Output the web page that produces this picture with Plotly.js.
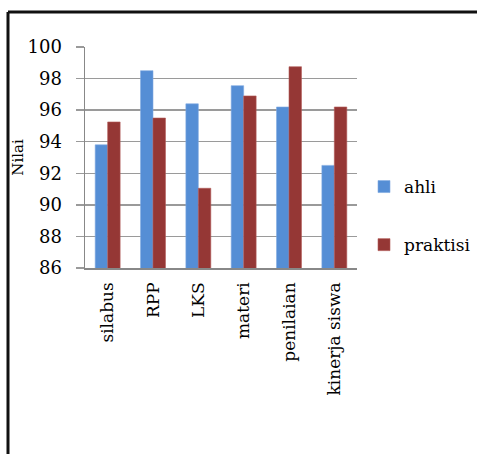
<!DOCTYPE html>
<html>
<head>
<meta charset="utf-8">
<script src="https://cdn.plot.ly/plotly-3.0.1.min.js"></script>
<style>html,body{margin:0;padding:0;background:#fff;}#chart{width:477px;height:454px;}</style>
</head>
<body>
<div id="chart"></div>
<script>
const categories = ["silabus", "RPP", "LKS", "materi", "penilaian", "kinerja siswa"];
const ahli = [93.8, 98.5, 96.4, 97.55, 96.2, 92.5];
const praktisi = [95.25, 95.5, 91.05, 96.9, 98.75, 96.2];
const seriesNames = ["ahli", "praktisi"];
const yTicks = [86, 88, 90, 92, 94, 96, 98, 100];

const font = "'DejaVu Serif', 'Liberation Serif', serif";

const traces = [
  {type: "bar", name: seriesNames[0], x: categories, y: ahli, legendgroup: "a",
   marker: {color: "#558ED5", line: {color: "#7fa9e0", width: 0.6}}},
  {type: "bar", name: seriesNames[1], x: categories, y: praktisi, legendgroup: "b",
   marker: {color: "#953735", line: {color: "#b25a58", width: 0.6}}}
];

const W = 477, H = 454, L = 85, R = 120, T = 47, B = 186;
const pw = W - L - R, ph = H - T - B;
const px = v => (v - L) / pw;
const py = v => (H - B - v) / ph;

const layout = {
  width: W, height: H,
  margin: {l: L, r: R, t: T, b: B, pad: 0, autoexpand: false},
  paper_bgcolor: "#fff", plot_bgcolor: "#fff",
  font: {family: font, size: 17, color: "#000"},
  barmode: "group", bargap: 0.45, bargroupgap: 0,
  showlegend: true,
  legend: {x: px(364), y: py(216), xanchor: "left", yanchor: "middle",
           traceorder: "grouped", tracegroupgap: 33, itemwidth: 30,
           font: {family: font, size: 17, color: "#000"}, bgcolor: "rgba(0,0,0,0)"},
  xaxis: {type: "category", showgrid: false, showline: true, linecolor: "#888", linewidth: 1.5,
          ticks: "", tickangle: -90, ticklabelstandoff: 6, automargin: false,
          tickfont: {family: font, size: 17, color: "#000"}, fixedrange: true},
  yaxis: {range: [86, 100], tickvals: yTicks, ticktext: yTicks.map(String),
          showgrid: true, gridcolor: "#9a9a9a", gridwidth: 1.5,
          showline: true, linecolor: "#888", linewidth: 1.5,
          ticks: "outside", ticklen: 8, tickcolor: "#9a9a9a", tickwidth: 1.5,
          ticklabelstandoff: 10, zeroline: false, automargin: false,
          tickfont: {family: font, size: 18, color: "#000"},
          title: {text: "Nilai", standoff: 0, font: {family: font, size: 15, color: "#000"}},
          fixedrange: true},
  shapes: [
    {type: "line", xref: "paper", yref: "paper", x0: px(8), x1: px(480), y0: py(12), y1: py(12),
     line: {color: "#111", width: 3}},
    {type: "line", xref: "paper", yref: "paper", x0: px(8), x1: px(8), y0: py(12), y1: py(460),
     line: {color: "#111", width: 3}}
  ]
};

Plotly.newPlot("chart", traces, layout, {displayModeBar: false, staticPlot: true});
</script>
</body>
</html>
